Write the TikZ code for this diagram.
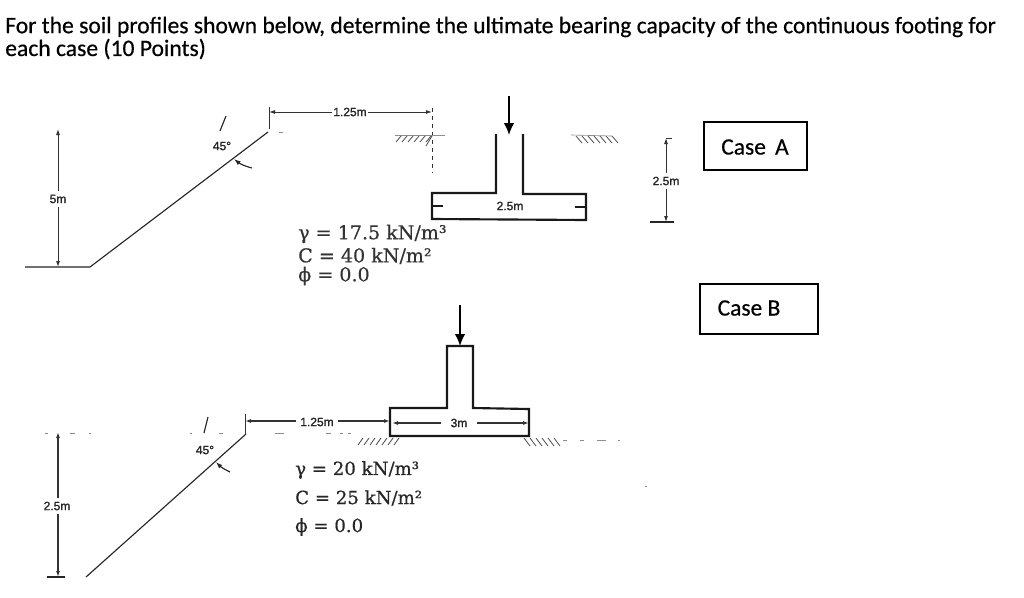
\documentclass[tikz,border=0pt]{standalone}
\usepackage{fontspec}
\setmainfont{Carlito}
\newfontfamily\titlef{Carlito}[FakeBold=0.5]
\newfontfamily\soilA{DejaVu Serif}[FakeBold=0.5]
\newfontfamily\soilB{DejaVu Serif}[FakeBold=0.5]
\newfontfamily\dimf{Liberation Sans}[FakeBold=1.5]
\newfontfamily\casef{Carlito}[FakeBold=0.4]
\usetikzlibrary{arrows.meta}
\tikzset{
 x=0.75pt,y=-0.75pt,
 line/.style={draw=black!85,line width=0.85pt},
 thick line/.style={draw=black!90,line width=1.6pt},
 thin line/.style={draw=black!80,line width=0.7pt},
 dimarrow/.style={thin line,{Latex[length=4.5pt,width=3pt]}-{Latex[length=4.5pt,width=3pt]}},
 load/.style={draw=black,line width=1.3pt,-{Latex[length=9pt,width=8pt]}},
 dimlabel/.style={font=\dimf\fontsize{9}{10}\selectfont,fill=white,inner xsep=1pt,inner ysep=3pt,text=black!85},
 title/.style={anchor=west,inner sep=0,font=\titlef\fontsize{17.7}{20}\selectfont,text=black},
 propA/.style={anchor=west,inner sep=0,font=\soilA\fontsize{14.3}{16}\selectfont,text=black!80},
 propB/.style={anchor=west,inner sep=0,font=\soilB\fontsize{13.6}{16}\selectfont,text=black!85},
 casebox/.style={draw=black,line width=1.2pt,fill=white},
 caselabel/.style={font=\casef\fontsize{17.6}{20}\selectfont,inner sep=0,text=black},
 hatch/.style={draw=black!70,line width=0.6pt},
 gap/.style={draw=black!45,line width=0.5pt},
}
\begin{document}
\begin{tikzpicture}
\fill[white] (0,0) rectangle (1024,597);
\useasboundingbox (0,0) rectangle (1024,597);
% title
\node[title] (t1) at (5,27) {For the soil profiles shown below, determine the ultimate bearing capacity of the continuous footing for};
\node[title] (t2) at (5,49) {each case (10 Points)};
% ---------- Case A ----------
\coordinate (aG) at (25,267);
\coordinate (aT) at (90,267);
\coordinate (aC) at (268,132);
\draw[line] (aG) -- (aT) -- (aC);
\coordinate (a5t) at (58,129);
\coordinate (a5b) at (58,267);
\draw[dimarrow] (a5t) -- (a5b);
\node[dimlabel] (a5) at (58,199) {5m};
\coordinate (aMa) at (226,116);
\coordinate (aMb) at (220,131);
\draw[line] (aMa) -- (aMb);
\node[dimlabel,fill=none] (a45) at (222,146) {45°};
\coordinate (aAa) at (252,168);
\coordinate (aAb) at (234,159);
\draw[line,-{Latex[length=5pt,width=3.5pt]}] (aAa) to[bend left=12] (aAb);
\draw[gap] (279,132) -- (283,132);
% 1.25 m dimension
\coordinate (aDl) at (269,112);
\coordinate (aDr) at (432,112);
\draw[thin line] (269,107) -- (269,129);
\draw[dimarrow] (aDl) -- (aDr);
\node[dimlabel] (a125) at (350,112) {1.25m};
\draw[thin line,dashed] (432,108) -- (432,173);
% ground A
\draw[gap] (395,135) -- (445,135);
\foreach \x in {396,402,...,426} \draw[hatch] (\x+5,136) -- (\x,142);
\draw[hatch] (432,136) -- (426,146);
\draw[gap] (571,135) -- (612,136);
\foreach \x in {576,582,...,612} \draw[hatch] (\x,136) -- (\x+6,143);
% footing A
\coordinate (aS1) at (496,134);
\coordinate (aS2) at (523,134);
\draw[thick line] (aS1) -- (496,193) -- (432,193) -- (432,219) -- (586,220) -- (586,194) -- (523,194) -- (aS2);
\coordinate (aLt) at (509,96);
\coordinate (aLb) at (509,135);
\draw[load] (aLt) -- (aLb);
\node[dimlabel] (a25) at (510,206) {2.5m};
\draw[thick line,line width=1.1pt] (432,206) -- (443,206);
\draw[thick line,line width=1.1pt] (575,207) -- (586,207);
% properties A
\node[propA] (ag) at (298,234) {γ = 17.5 kN/m³};
\node[propA] (ac) at (298,256) {C = 40 kN/m²};
\node[propA] (ap) at (298,276) {ϕ = 0.0};
% right 2.5 m
\coordinate (rT) at (666,138);
\coordinate (rB) at (666,222);
\draw[dimarrow] (rT) -- (rB);
\draw[thin line] (rT) -- (672,138);
\draw[line] (650,222) -- (674,222);
\node[dimlabel] (r25) at (666,181) {2.5m};
% case boxes
\node[casebox,minimum width=103pt*0.75,minimum height=48pt*0.75] (ca) at (755.5,146) {};
\node[caselabel] (cal) at (755,147) {Case\, A};
\node[casebox,minimum width=118pt*0.75,minimum height=50pt*0.75] (cb) at (759,309) {};
\node[caselabel] (cbl) at (749,308) {Case B};
% ---------- Case B ----------
\coordinate (bT) at (86,577);
\coordinate (bC) at (246,434);
\draw[line] (bT) -- (bC);
\coordinate (b5t) at (58,432);
\coordinate (b5b) at (58,577);
\draw[dimarrow,line width=0.9pt] (b5t) -- (b5b);
\draw[line] (47,577) -- (65,577);
\node[dimlabel] (b25) at (57,506) {2.5m};
\foreach \a/\b in {45/48,70/75,89/91,190/192,219/223,275/284,326/331,340/343,348/351}
  \draw[gap] (\a,433) -- (\b,433);
\coordinate (bMa) at (208,417);
\coordinate (bMb) at (204,433);
\draw[line] (bMa) -- (bMb);
\node[dimlabel,fill=none] (b45) at (205,450) {45°};
\coordinate (bAa) at (230,472);
\coordinate (bAb) at (216,462);
\draw[line,-{Latex[length=5pt,width=3.5pt]}] (bAa) to[bend left=10] (bAb);
% 1.25 m dimension B
\coordinate (bDl) at (245,421);
\coordinate (bDr) at (390,421);
\draw[thin line] (245,414) -- (245,434);
\draw[dimarrow,line width=0.9pt] (bDl) -- (bDr);
\node[dimlabel,inner xsep=3pt] (b125) at (317,422) {1.25m};
% footing B
\draw[thick line] (447,408) -- (447,346) -- (473,346) -- (473,408) -- (529,409) -- (529,436) -- (390,436) -- (390,408) -- cycle;
\coordinate (bLt) at (460,305);
\coordinate (bLb) at (460,346);
\draw[load] (bLt) -- (bLb);
\coordinate (bW1) at (392,423);
\coordinate (bW2) at (529,423);
\draw[dimarrow,line width=0.9pt] (bW1) -- (bW2);
\node[dimlabel,inner xsep=7pt] (b3) at (459,423) {3m};
% ground B
\foreach \x in {358,364,...,394} \draw[hatch] (\x+5,438) -- (\x,445);
\foreach \x in {524,530,...,554} \draw[hatch] (\x,438) -- (\x+6,446);
\foreach \a/\b in {563/567,580/584,597/606,618/620}
  \draw[gap] (\a,440) -- (\b,440);
\draw[gap] (645,486) -- (647,486);
% properties B
\node[propB] (bg) at (295,470) {γ = 20 kN/m³};
\node[propB] (bc) at (295,498) {C = 25 kN/m²};
\node[propB] (bp) at (295,527) {ϕ = 0.0};
\end{tikzpicture}
\end{document}
